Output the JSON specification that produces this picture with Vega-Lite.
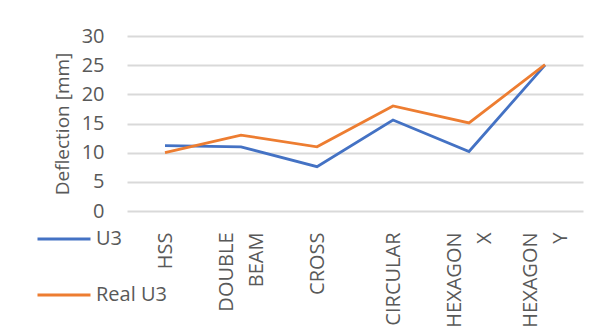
{
  "$schema": "https://vega.github.io/schema/vega-lite/v6.json",
  "width": 456,
  "height": 175,
  "autosize": "none",
  "padding": {"left": 127, "top": 36, "right": 16, "bottom": 120},
  "background": "white",
  "config": {
    "view": {"stroke": null},
    "font": "Open Sans",
    "axis": {"labelColor": "#595959", "titleColor": "#595959", "labelFont": "Open Sans", "titleFont": "Open Sans"}
  },
  "data": {
    "values": [
      {"shape": "HSS", "series": "U3", "value": 11.2},
      {"shape": "DOUBLE BEAM", "series": "U3", "value": 11.0},
      {"shape": "CROSS", "series": "U3", "value": 7.6},
      {"shape": "CIRCULAR", "series": "U3", "value": 15.6},
      {"shape": "HEXAGON X", "series": "U3", "value": 10.2},
      {"shape": "HEXAGON Y", "series": "U3", "value": 25.0},
      {"shape": "HSS", "series": "Real U3", "value": 10.0},
      {"shape": "DOUBLE BEAM", "series": "Real U3", "value": 13.0},
      {"shape": "CROSS", "series": "Real U3", "value": 11.0},
      {"shape": "CIRCULAR", "series": "Real U3", "value": 18.0},
      {"shape": "HEXAGON X", "series": "Real U3", "value": 15.1},
      {"shape": "HEXAGON Y", "series": "Real U3", "value": 25.1}
    ]
  },
  "mark": {"type": "line", "strokeWidth": 2.75},
  "encoding": {
    "x": {
      "field": "shape",
      "type": "nominal",
      "sort": null,
      "scale": {"type": "point", "padding": 0.5},
      "axis": {
        "title": null,
        "labelAngle": -90,
        "labelFontSize": 20,
        "labelLineHeight": 30,
        "labelExpr": "split(datum.label, ' ')",
        "labelOffset": {"condition": {"test": "indexof(datum.label, ' ') >= 0", "value": -15}, "value": 0},
        "ticks": false,
        "domain": false,
        "grid": false,
        "labelPadding": 21
      }
    },
    "y": {
      "field": "value",
      "type": "quantitative",
      "scale": {"domain": [0, 30], "nice": false},
      "axis": {
        "title": "Deflection [mm]",
        "titleFontSize": 19,
        "titleFontWeight": "normal",
        "titlePadding": 9,
        "values": [0, 5, 10, 15, 20, 25, 30],
        "labelFontSize": 20,
        "labelPadding": 23,
        "ticks": false,
        "domain": false,
        "grid": true,
        "gridColor": "#D9D9D9",
        "gridWidth": 2
      }
    },
    "color": {
      "field": "series",
      "type": "nominal",
      "sort": ["U3", "Real U3"],
      "scale": {"domain": ["U3", "Real U3"], "range": ["#4472C4", "#ED7D31"]},
      "legend": {
        "title": null,
        "orient": "none",
        "legendX": -91,
        "legendY": 175,
        "padding": 0,
        "symbolType": "stroke",
        "symbolSize": 2809,
        "symbolStrokeWidth": 3,
        "labelFontSize": 20,
        "labelColor": "#595959",
        "labelOffset": 4,
        "rowPadding": 18
      }
    }
  }
}
